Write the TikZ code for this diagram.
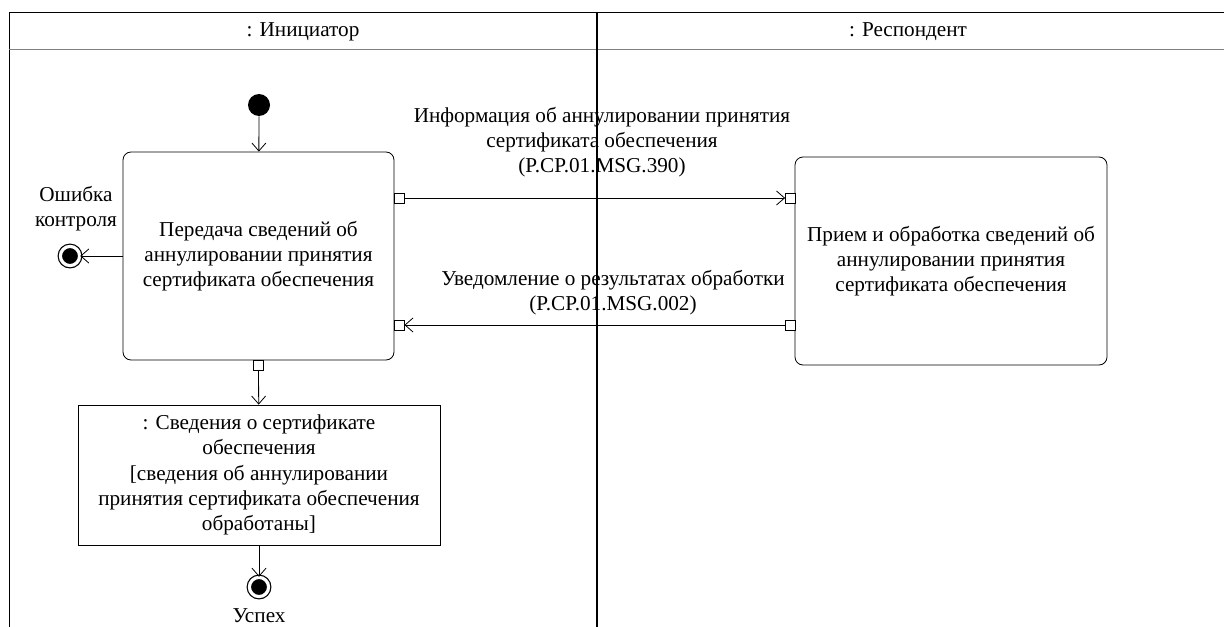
\documentclass[tikz,border=0pt]{standalone}
\usepackage{fontspec}
\setmainfont{Liberation Serif}
\usetikzlibrary{arrows.meta}

\begin{document}
\begin{tikzpicture}[x=0.5pt, y=-0.5pt, font={\fontsize{10.6}{12.6}\selectfont},
	action/.style={draw, rounded corners=4pt, align=center, inner sep=0pt},
	objbox/.style={draw, align=center, inner sep=0pt},
	pinbox/.style={draw, fill=white, minimum size=5pt, inner sep=0pt},
	startdot/.style={circle, fill, minimum size=11pt, inner sep=0pt},
	finalnode/.style={circle, draw, fill=black, line width=0.6pt, double, double distance=1.6pt, minimum size=9.6pt, inner sep=0pt},
	flow/.style={-{Straight Barb[length=4pt, width=7pt]}}]
	\useasboundingbox (0,0) rectangle (1224,626);
	\clip (0,0) rectangle (1224,626);
	\draw (9,640) -- (9,12) -- (1240,12);
	\draw[gray] (9,49) -- (1240,49);
	\draw[line width=0.7pt] (597,12) -- (597,640);
	\node (initiator) at (303,32) {: Инициатор};
	\node (respondent) at (908,32) {: Респондент};
	\node[startdot] (start) at (259,105) {};
	\node[action, minimum width=135.5pt, minimum height=104pt] (send) at (258.5,256) {Передача сведений об\\аннулировании принятия\\сертификата обеспечения};
	\node[action, minimum width=156pt, minimum height=104pt] (receive) at (951,261) {Прием и обработка сведений об\\аннулировании принятия\\сертификата обеспечения};
	\node[objbox, minimum width=181pt, minimum height=70pt] (info) at (259,475) {: Сведения о сертификате\\обеспечения\\{[}сведения об аннулировании\\принятия сертификата обеспечения\\обработаны{]}};
	\node[finalnode] (err) at (70,256) {};
	\node[align=center] (errlabel) at (76,209) {Ошибка\\контроля};
	\node[finalnode] (done) at (259,587) {};
	\node (donelabel) at (259,616) {Успех};
	\node[pinbox] (outpin) at (399,198) {};
	\node[pinbox] (inpin) at (790.5,198) {};
	\node[pinbox] (ackout) at (790.5,325) {};
	\node[pinbox] (ackin) at (399,325) {};
	\node[pinbox] (objpin) at (258.5,365) {};
	\node[align=center] (msg390) at (602,142) {Информация об аннулировании принятия\\сертификата обеспечения\\(P.CP.01.MSG.390)};
	\node[align=center] (msg002) at (613,293) {Уведомление о результатах обработки\\(P.CP.01.MSG.002)};
	\draw[flow] (start) -- (send);
	\draw[flow] (send) -- (err);
	\draw[flow] (outpin) -- (inpin);
	\draw[flow] (ackout) -- (ackin);
	\draw[flow] (objpin) -- (info);
	\draw[flow] (info) -- (done);
\end{tikzpicture}
\end{document}
